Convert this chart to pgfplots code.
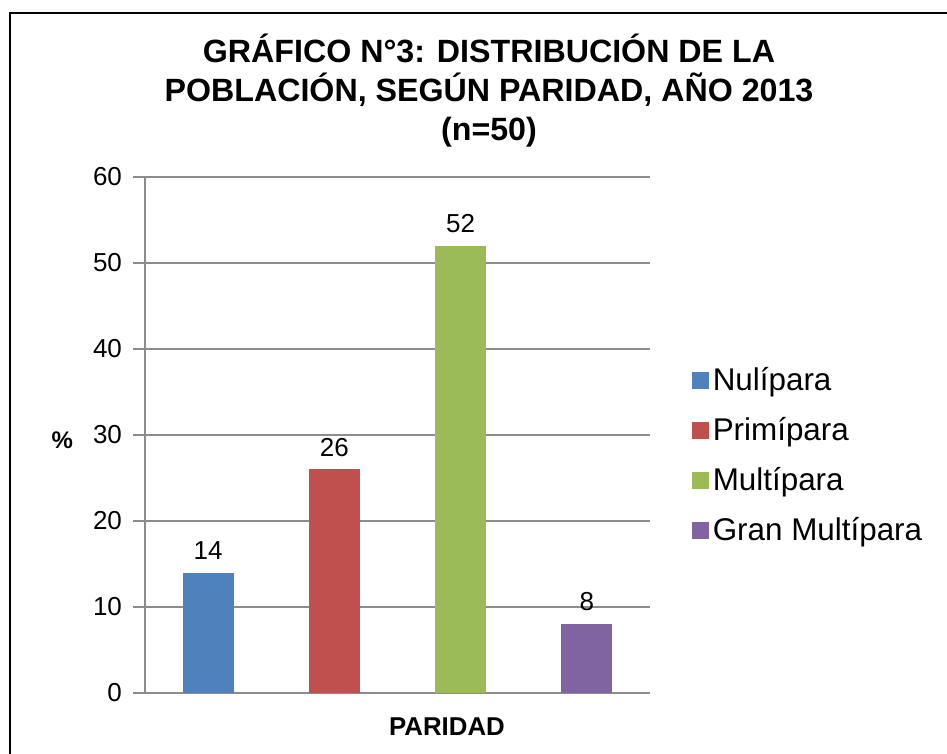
\documentclass[border=0pt]{standalone}
\usepackage{fontspec}
\setmainfont{Liberation Sans}
\usepackage{pgfplots}
\pgfplotsset{compat=1.18}
\definecolor{cblue}{HTML}{4F81BD}
\definecolor{cred}{HTML}{C0504D}
\definecolor{cgreen}{HTML}{9BBB59}
\definecolor{cpurple}{HTML}{8064A2}
\definecolor{gridgray}{RGB}{140,140,140}
\begin{document}
\begin{tikzpicture}
\useasboundingbox (0,0) rectangle (473.5pt,377pt);
\draw[line width=1.3pt] (5pt,-5pt) -- (5pt,370.5pt) -- (480pt,370.5pt);
\node[align=center, font=\bfseries\fontsize{16.1}{19.5}\selectfont] at (244.5pt,331.5pt)
  {GRÁFICO N°3: DISTRIBUCIÓN DE LA\\POBLACIÓN, SEGÚN PARIDAD, AÑO 2013\\(n=50)};
\begin{axis}[
  at={(72.5pt,30.5pt)}, anchor=south west,
  scale only axis, width=252.5pt, height=258pt,
  ybar, bar width=25.5pt,
  xmin=-0.5, xmax=3.5, ymin=0, ymax=60,
  xtick=\empty, ytick={0,10,...,60},
  axis x line*=bottom, axis y line*=left,
  axis line style={draw=gridgray, line width=0.8pt},
  ymajorgrids, grid style={draw=gridgray, line width=0.8pt},
  tick align=outside, major tick length=6pt,
  tick style={draw=gridgray, line width=0.8pt},
  ytick pos=left,
  /pgf/number format/assume math mode=true,
  tick label style={font=\fontsize{13}{15}\selectfont},
  yticklabel style={xshift=-2pt},
  xlabel={PARIDAD},
  xlabel style={font=\bfseries\fontsize{12.9}{15}\selectfont, at={(axis description cs:0.598,0)}, anchor=center, yshift=-17pt},
  ylabel={\%},
  ylabel style={font=\bfseries\fontsize{12}{14}\selectfont, rotate=-90, anchor=center, at={(axis description cs:-0.164,0.49)}},
  nodes near coords,
  every node near coord/.append style={font=\fontsize{13}{15}\selectfont, yshift=3pt},
  legend style={at={(1.07,0.461)}, anchor=west, draw=none, fill=none,
    font=\fontsize{15.7}{18}\selectfont, row sep=7.9pt},
  legend cell align=left,
  legend image code/.code={\fill[#1] (0pt,-4.25pt) rectangle (8.5pt,4.25pt);},
]
\addplot[fill=cblue, draw=none, bar shift=0pt] coordinates {(0,14)};
\addlegendentry{Nulípara}
\addplot[fill=cred, draw=none, bar shift=0pt] coordinates {(1,26)};
\addlegendentry{Primípara}
\addplot[fill=cgreen, draw=none, bar shift=0pt] coordinates {(2,52)};
\addlegendentry{Multípara}
\addplot[fill=cpurple, draw=none, bar shift=0pt] coordinates {(3,8)};
\addlegendentry{Gran Multípara}
\end{axis}
\end{tikzpicture}
\end{document}
